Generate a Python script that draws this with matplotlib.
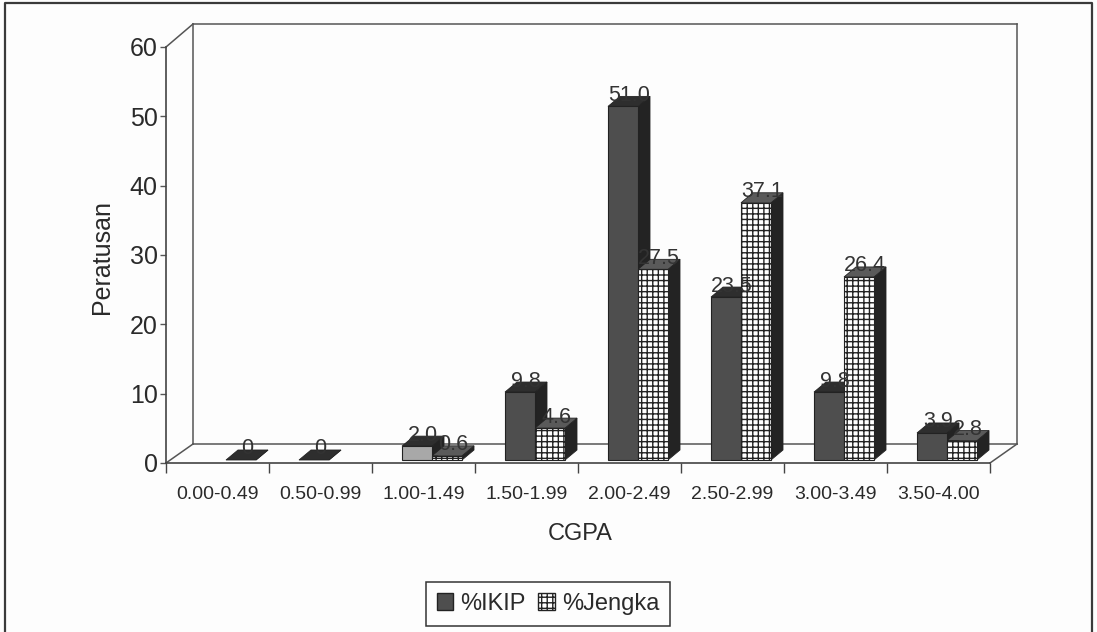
import matplotlib
matplotlib.use('Agg')
import matplotlib.pyplot as plt
from matplotlib.patches import Patch, Polygon, Rectangle

plt.rcParams['font.family'] = ['Liberation Sans', 'DejaVu Sans']
plt.rcParams['hatch.linewidth'] = 1.0

categories = ['0.00-0.49', '0.50-0.99', '1.00-1.49', '1.50-1.99',
              '2.00-2.49', '2.50-2.99', '3.00-3.49', '3.50-4.00']
ikip = [None, 0, 2.0, 9.8, 51.0, 23.5, 9.8, 3.9]
jengka = [0, None, 0.6, 4.6, 27.5, 37.1, 26.4, 2.8]
ikip_labels = ['', '0', '2.0', '9.8', '51.0', '23.5', '9.8', '3.9']
jengka_labels = ['0', '', '0.6', '4.6', '27.5', '37.1', '26.4', '2.8']

W, H = 1097, 632
fig = plt.figure(figsize=(W / 100, H / 100), dpi=100, facecolor='#fdfdfd')
ax = fig.add_axes([166 / W, (H - 463) / H, 824 / W, 416 / H])
ax.set_xlim(0, 8)
ax.set_ylim(0, 60)
ax.patch.set_alpha(0)

# size of one pixel in data units
px = 8 / 824
py = 60 / 416

# outer frame, the scan has no bottom edge
frame_x = [5 / W, 5 / W, 1092 / W, 1092 / W]
frame_y = [0, 1 - 3 / H, 1 - 3 / H, 0]
fig.add_artist(plt.Line2D(frame_x, frame_y, color='#3a3a3a', lw=1.6))

# 3d box behind the bars
wall_dx, wall_dy = 27 * px, 19 * py
wall_top = 60 + 23 * py
for xs, ys in [([0, wall_dx], [0, wall_dy]),
               ([0, wall_dx], [60, wall_top]),
               ([wall_dx, wall_dx], [wall_dy, wall_top]),
               ([wall_dx, 8 + wall_dx], [wall_top, wall_top]),
               ([8 + wall_dx, 8 + wall_dx], [wall_dy, wall_top]),
               ([wall_dx, 8 + wall_dx], [wall_dy, wall_dy]),
               ([8, 8 + wall_dx], [0, wall_dy])]:
    ax.plot(xs, ys, color='#555555', lw=1.1, clip_on=False, zorder=1)

bar_w = 30 * px
depth_x, depth_y = 12 * px, 10 * py
base = 3 * py
start = 30 * px


def draw_bar(x, value, face, hatch=None, top_face='#2e2e2e'):
    y0, y1 = base, base + value
    dark = '#232323'
    ax.add_patch(Polygon([(x + bar_w, y0), (x + bar_w + depth_x, y0 + depth_y),
                          (x + bar_w + depth_x, y1 + depth_y), (x + bar_w, y1)],
                         fc=dark, ec=dark, lw=0.6, clip_on=False, zorder=3))
    ax.add_patch(Polygon([(x, y1), (x + depth_x, y1 + depth_y),
                          (x + bar_w + depth_x, y1 + depth_y), (x + bar_w, y1)],
                         fc=top_face, ec=dark, lw=0.6, clip_on=False, zorder=3))
    if value > 0:
        ax.add_patch(Rectangle((x, y0), bar_w, value, fc=face, ec='#222222', lw=0.8,
                               hatch=hatch, clip_on=False, zorder=4))


def label_bar(x, value, text):
    if text:
        ax.text(x + bar_w / 2 + 6 * px, base + value + 11 * py, text, ha='center', va='center',
                fontsize=15.5, color='#333333', clip_on=False, zorder=6)


for i in range(8):
    x = i + start
    if ikip[i] is not None:
        face = '#a8a8a8' if i == 2 else '#4e4e4e'
        draw_bar(x, ikip[i], face)
    if jengka[i] is not None:
        top_face = '#5a5a5a' if jengka[i] > 0 else '#2e2e2e'
        draw_bar(x + bar_w, jengka[i], 'white', '+++', top_face)

for i in range(8):
    x = i + start
    if ikip[i] is not None:
        label_bar(x, ikip[i], ikip_labels[i])
    if jengka[i] is not None:
        label_bar(x + bar_w, jengka[i], jengka_labels[i])

# axes
for side in ['top', 'right']:
    ax.spines[side].set_visible(False)
for side in ['left', 'bottom']:
    ax.spines[side].set_color('#444444')
    ax.spines[side].set_linewidth(1.2)

ax.set_yticks(range(0, 61, 10))
ax.tick_params(axis='y', labelsize=18, length=4, width=1, color='#555555',
               labelcolor='#2a2a2a', pad=2)
ax.set_xticks(range(9))
ax.set_xticklabels([])
ax.tick_params(axis='x', which='major', length=7, width=1, color='#444444')
ax.set_xticks([i + 0.5 for i in range(8)], minor=True)
ax.set_xticklabels(categories, minor=True)
ax.tick_params(axis='x', which='minor', length=0, labelsize=14, labelcolor='#2a2a2a', pad=16.5)

fig.text(580 / W, 1 - 534 / H, 'CGPA', ha='center', va='center', fontsize=17, color='#2a2a2a')
fig.text(102 / W, 1 - 257 / H, 'Peratusan', ha='center', va='center', rotation=90,
         fontsize=18, color='#2a2a2a')

handles = [Patch(fc='#4e4e4e', ec='#222222', label='%IKIP'),
           Patch(fc='white', ec='#222222', hatch='+++', label='%Jengka')]
leg = fig.legend(handles=handles, loc='center', bbox_to_anchor=(548 / W, 1 - 604 / H), ncol=2,
                 fontsize=17, frameon=True, fancybox=False, edgecolor='#333333',
                 facecolor='#fdfdfd', framealpha=1, handlelength=0.7, handleheight=0.7,
                 handletextpad=0.3, columnspacing=0.55, borderpad=0.45, borderaxespad=0)
leg.get_frame().set_linewidth(1.1)
for t in leg.get_texts():
    t.set_color('#2a2a2a')

fig.savefig('out.png', dpi=100, facecolor=fig.get_facecolor())
